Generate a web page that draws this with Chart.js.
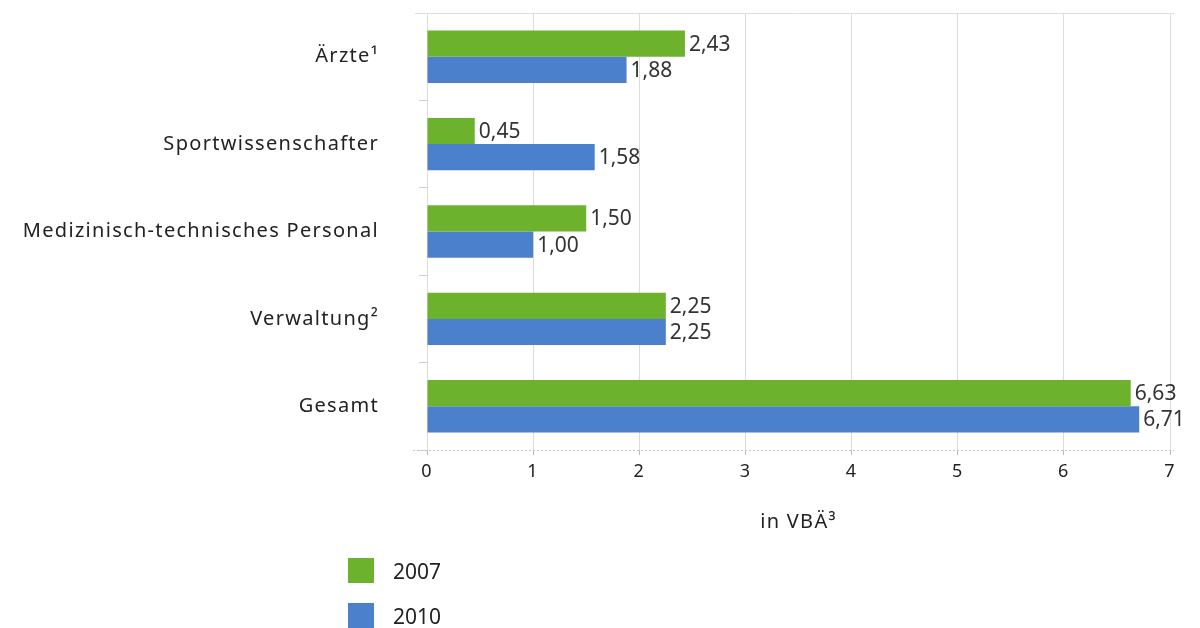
<!DOCTYPE html>
<html>
<head>
<meta charset="utf-8">
<script src="https://cdn.jsdelivr.net/npm/chart.js@4"></script>
<style>
  html, body { margin: 0; padding: 0; background: #fff; }
  #wrap { position: relative; width: 1200px; height: 628px; }
  #legend { position: absolute; left: 348px; top: 558px; font-family: "Noto Sans", sans-serif; font-size: 21px; color: #222; }
  #legend div { display: flex; align-items: center; height: 25px; margin-bottom: 20px; }
  #legend span.box { display: inline-block; width: 26px; height: 25px; margin-right: 19px; }
</style>
</head>
<body>
<div id="wrap">
  <canvas id="myChart" width="1200" height="628"></canvas>
  <div id="legend"></div>
</div>
<script>
const categories = ['Ärzte¹', 'Sportwissenschafter', 'Medizinisch-technisches Personal', 'Verwaltung²', 'Gesamt'];
const years = ['2007', '2010'];
const values2007 = [2.43, 0.45, 1.50, 2.25, 6.63];
const values2010 = [1.88, 1.58, 1.00, 2.25, 6.71];
const xTicks = [0, 1, 2, 3, 4, 5, 6, 7];

const green = '#6cb22c';
const blue = '#4a80cc';
const fontFamily = '"Noto Sans", sans-serif';

// wider letter spacing like the original typeface, thin frame line on top, dotted base line
const frame = {
    id: 'frame',
    beforeDraw(chart) {
        chart.ctx.letterSpacing = '1.3px';
    },
    beforeDatasetsDraw(chart) {
        const { ctx, chartArea } = chart;
        ctx.save();
        ctx.lineWidth = 1;
        ctx.strokeStyle = '#dedede';
        ctx.beginPath();
        ctx.moveTo(chartArea.left - 12, chartArea.top + 0.5);
        ctx.lineTo(chartArea.right + 4, chartArea.top + 0.5);
        ctx.stroke();
        ctx.strokeStyle = '#c8c8c8';
        ctx.setLineDash([2, 2]);
        ctx.beginPath();
        ctx.moveTo(chartArea.left - 14, chartArea.bottom + 0.5);
        ctx.lineTo(chartArea.right + 4, chartArea.bottom + 0.5);
        ctx.stroke();
        ctx.restore();
    }
};

// value labels at the end of each bar, German decimal comma
const valueLabels = {
    id: 'valueLabels',
    afterDatasetsDraw(chart) {
        const ctx = chart.ctx;
        ctx.save();
        ctx.letterSpacing = '0px';
        ctx.font = '21px ' + fontFamily;
        ctx.fillStyle = '#333';
        ctx.textAlign = 'left';
        ctx.textBaseline = 'middle';
        chart.data.datasets.forEach((ds, i) => {
            chart.getDatasetMeta(i).data.forEach((bar, j) => {
                ctx.fillText(ds.data[j].toFixed(2).replace('.', ','), bar.x + 4, bar.y + 1);
            });
        });
        ctx.restore();
    }
};

const data = {
    labels: categories,
    datasets: [{
        label: years[0],
        data: values2007,
        backgroundColor: green,
        categoryPercentage: 0.6,
        barPercentage: 1.0
    }, {
        label: years[1],
        data: values2010,
        backgroundColor: blue,
        categoryPercentage: 0.6,
        barPercentage: 1.0
    }]
};

const ctx = document.getElementById('myChart');
const myChart = new Chart(ctx, {
    type: 'bar',
    data: data,
    plugins: [frame, valueLabels],
    options: {
        indexAxis: 'y',
        responsive: false,
        animation: false,
        layout: { padding: { left: 0, right: 30, top: 13, bottom: 0 } },
        plugins: {
            legend: { display: false },
            tooltip: { enabled: false }
        },
        scales: {
            x: {
                min: 0,
                max: 7,
                afterBuildTicks: (scale) => { scale.ticks = xTicks.map(v => ({ value: v })); },
                grid: { color: '#dcdcdc', tickLength: 5, tickColor: '#bbb' },
                border: { display: false },
                ticks: { font: { family: fontFamily, size: 18 }, color: '#222', padding: 6 },
                title: {
                    display: true,
                    text: 'in VBÄ³',
                    font: { family: fontFamily, size: 20 },
                    color: '#222',
                    padding: { top: 0, bottom: 94 }
                },
                afterFit: (scale) => { scale.height = 178; }
            },
            y: {
                grid: { drawOnChartArea: false, tickLength: 8, color: '#cfcfcf' },
                border: { display: false },
                ticks: { font: { family: fontFamily, size: 20 }, color: '#222', padding: 40 },
                afterFit: (scale) => {
                    scale.width = 427;
                    scale.paddingTop = 0;
                    scale.paddingBottom = 0;
                }
            }
        }
    }
});

// vertical legend below the chart
const legendEl = document.getElementById('legend');
myChart.data.datasets.forEach(ds => {
    const row = document.createElement('div');
    row.innerHTML = '<span class="box" style="background:' + ds.backgroundColor + '"></span>' + ds.label;
    legendEl.appendChild(row);
});
</script>
</body>
</html>
